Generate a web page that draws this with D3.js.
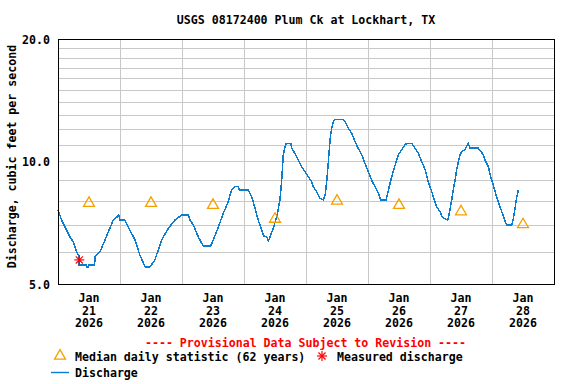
<!DOCTYPE html>
<html>
<head>
<meta charset="utf-8">
<script src="https://cdn.jsdelivr.net/npm/d3@7"></script>
<style>
    body { margin: 0; background: #fff; }
    svg  { display: block; }
    text { font-family: "DejaVu Sans Mono", monospace; font-weight: bold; font-size: 11.6px; fill: #000; }
</style>
</head>
<body>
<script>
/* global d3 */

// hours since Jan 21 2026 00:00 and discharge (cfs)
var flowHours = [
    0, 1.4, 2.7, 4.6, 5.9, 7.2, 8.1, 8.2, 11.0, 11.1, 11.7, 11.8, 14.2, 14.3, 16.3, 19.5, 21.4, 22.8, 23.5,
    24.0, 25.9, 29.8, 31.7, 33.7, 35.6, 37.5, 40.1, 42.7, 45.3, 47.9,
    50.4, 51.1, 52.4, 54.3, 56.2, 59.1, 60.1, 62.1, 64.0, 65.9, 67.2, 68.5, 69.8, 70.2,
    73.7, 75.0, 76.3, 77.5, 78.8, 79.7, 81.0, 81.4, 82.1, 83.3, 84.7, 85.9, 86.6, 87.2, 87.9, 88.3, 90.1, 90.5, 91.7, 93.0, 94.3, 95.6,
    96.9, 98.2, 98.8, 100.1, 101.4, 102.7, 103.4, 104.0, 104.6, 105.3, 105.9, 106.6, 107.2, 110.4, 111.1, 112.4, 113.7, 115.0, 116.2, 117.6, 118.8,
    120.1, 121.4, 122.7, 124.0, 124.9, 127.0, 127.9, 129.2, 130.5, 131.7, 133.0, 134.3, 135.0, 136.9, 138.2, 139.5, 140.8, 142.1, 143.3,
    144.0, 144.9, 145.7, 146.6, 147.9, 148.8, 150.9, 151.7, 152.4, 153.0, 153.7, 154.3, 155.0, 155.6, 156.3, 157.6, 158.2, 158.8, 159.5, 162.7, 163.8, 164.6, 165.3, 166.6, 167.5,
    168.5, 169.4, 170.2, 171.1, 172.0, 172.8, 173.7, 175.6, 176.3, 176.9, 177.6, 178.2
];
var flowValues = [
    7.6, 7.18, 6.91, 6.53, 6.35, 6.0, 5.85, 5.57, 5.57, 5.5, 5.5, 5.57, 5.57, 5.83, 6.0, 6.72, 7.18, 7.3, 7.39,
    7.18, 7.18, 6.41, 5.89, 5.51, 5.51, 5.73, 6.41, 6.85, 7.18, 7.39,
    7.39, 7.18, 6.98, 6.53, 6.2, 6.2, 6.41, 6.91, 7.46, 7.97, 8.51, 8.67, 8.67, 8.51,
    8.51, 8.19, 7.67, 7.18, 6.79, 6.56, 6.51, 6.38, 6.53, 6.85, 7.32, 8.04, 9.0, 10.37, 10.87, 11.08, 11.08, 10.78, 10.47, 10.08, 9.71, 9.44,
    9.18, 8.92, 8.67, 8.43, 8.12, 8.04, 8.27, 8.92, 9.9, 11.29, 12.07, 12.53, 12.7, 12.7, 12.53, 12.07, 11.73, 11.18, 10.78, 10.37, 9.9,
    9.44, 9.0, 8.67, 8.35, 8.04, 8.04, 8.51, 9.18, 9.8, 10.37, 10.67, 10.98, 11.08, 11.08, 10.78, 10.47, 9.99, 9.55, 8.92,
    8.67, 8.35, 8.04, 7.74, 7.53, 7.29, 7.18, 7.6, 8.04, 8.51, 9.0, 9.53, 9.99, 10.37, 10.57, 10.71, 10.92, 11.08, 10.78, 10.78, 10.57, 10.37, 10.08, 9.71, 9.18,
    8.75, 8.35, 8.04, 7.74, 7.46, 7.21, 6.98, 6.98, 7.25, 7.67, 8.19, 8.51
];

var dayLabels    = ["21", "22", "23", "24", "25", "26", "27", "28"];
var medianValues = [7.9, 7.9, 7.81, 7.22, 8.0, 7.81, 7.53, 7.0];
var measuredHour  = 8.25;
var measuredValue = 5.73;
var yGridValues  = [6, 7, 8, 9, 10, 11, 12, 13, 14, 15, 16, 17, 18, 19];
var yTickValues  = [5, 10, 20];

var W = 576, H = 384;
var plotL = 58, plotR = 554, plotT = 39, plotB = 284;

var startDate = new Date(2026, 0, 21);
var hourDate  = (h) => new Date(startDate.getTime() + h * 3600000);

var x = d3.scaleTime()
          .domain([startDate, hourDate(8 * 24)])
          .range([plotL, plotR]);

var y = d3.scaleLog()
          .domain([5, 20])
          .range([plotB, plotT]);

var svg = d3.select("body").append("svg")
            .attr("width", W)
            .attr("height", H);

// title
svg.append("text")
   .attr("x", (plotL + plotR) / 2)
   .attr("y", 20)
   .attr("text-anchor", "middle")
   .attr("dominant-baseline", "middle")
   .text("USGS 08172400 Plum Ck at Lockhart, TX");

// grid
var grid = svg.append("g")
              .attr("stroke", "#c8c8c8")
              .attr("stroke-width", 1)
              .attr("shape-rendering", "crispEdges");

grid.selectAll("line.h")
    .data(yGridValues)
    .enter().append("line")
    .attr("x1", plotL).attr("x2", plotR)
    .attr("y1", (d) => Math.round(y(d)) + 0.5)
    .attr("y2", (d) => Math.round(y(d)) + 0.5);

grid.selectAll("line.v")
    .data(d3.range(1, 8))
    .enter().append("line")
    .attr("x1", (d) => Math.round(x(hourDate(d * 24))) + 0.5)
    .attr("x2", (d) => Math.round(x(hourDate(d * 24))) + 0.5)
    .attr("y1", plotT).attr("y2", plotB);

// discharge line
var flow = flowHours.map((h, i) => ({ t: hourDate(h), v: flowValues[i] }));

svg.append("path")
   .datum(flow)
   .attr("fill", "none")
   .attr("stroke", "#0a7dcf")
   .attr("stroke-width", 1.5)
   .attr("shape-rendering", "crispEdges")
   .attr("d", d3.line()
                .x((d) => x(d.t))
                .y((d) => y(d.v)));

// median triangles
var triangle = d3.symbol().type(d3.symbolTriangle).size(52);

svg.selectAll("path.median")
   .data(medianValues)
   .enter().append("path")
   .attr("class", "median")
   .attr("d", triangle)
   .attr("transform", (d, i) => `translate(${x(hourDate(i * 24 + 12))},${y(d)})`)
   .attr("fill", "none")
   .attr("stroke", "#f5a000")
   .attr("stroke-width", 1.3);

// measured discharge asterisk
var asterisk = (g, r) => {
    [0, 45, 90, 135].forEach((a) => {
        var rad = a * Math.PI / 180;
        g.append("line")
         .attr("x1", -r * Math.cos(rad)).attr("y1", -r * Math.sin(rad))
         .attr("x2",  r * Math.cos(rad)).attr("y2",  r * Math.sin(rad));
    });
};

var meas = svg.append("g")
              .attr("stroke", "#ff0000")
              .attr("stroke-width", 1.2)
              .attr("transform", `translate(${x(hourDate(measuredHour))},${y(measuredValue)})`);
asterisk(meas, 5);

// frame
svg.append("rect")
   .attr("x", plotL + 0.5).attr("y", plotT + 0.5)
   .attr("width", plotR - plotL).attr("height", plotB - plotT)
   .attr("fill", "none")
   .attr("stroke", "#000")
   .attr("shape-rendering", "crispEdges");

// y ticks
svg.selectAll("text.ytick")
   .data(yTickValues)
   .enter().append("text")
   .attr("x", 50)
   .attr("y", (d) => y(d) + 1)
   .attr("text-anchor", "end")
   .attr("dominant-baseline", "middle")
   .text((d) => d.toFixed(1));

svg.append("text")
   .attr("transform", `translate(12,${(plotT + plotB) / 2 - 5}) rotate(-90)`)
   .attr("text-anchor", "middle")
   .attr("dominant-baseline", "middle")
   .text("Discharge, cubic feet per second");

// x labels
var xl = svg.selectAll("g.xl")
            .data(dayLabels)
            .enter().append("g")
            .attr("transform", (d, i) => `translate(${x(hourDate(i * 24 + 12))},0)`);

[["Jan", 298], [null, 311], ["2026", 323.5]].forEach(([s, yy]) => {
    xl.append("text")
      .attr("y", yy)
      .attr("text-anchor", "middle")
      .attr("dominant-baseline", "middle")
      .text((d) => s === null ? d : s);
});

// legend
svg.append("text")
   .attr("x", 305.5).attr("y", 343.5)
   .attr("text-anchor", "middle")
   .attr("dominant-baseline", "middle")
   .style("fill", "#ff0000")
   .text("---- Provisional Data Subject to Revision ----");

svg.append("path")
   .attr("d", triangle)
   .attr("transform", "translate(60,356)")
   .attr("fill", "none")
   .attr("stroke", "#f5a000")
   .attr("stroke-width", 1.3);

svg.append("text")
   .attr("x", 75).attr("y", 357)
   .attr("dominant-baseline", "middle")
   .text("Median daily statistic (62 years)");

var legMeas = svg.append("g")
                 .attr("stroke", "#ff0000")
                 .attr("stroke-width", 1.2)
                 .attr("transform", "translate(322,356)");
asterisk(legMeas, 5);

svg.append("text")
   .attr("x", 337).attr("y", 357)
   .attr("dominant-baseline", "middle")
   .text("Measured discharge");

svg.append("line")
   .attr("x1", 51).attr("x2", 69)
   .attr("y1", 372.5).attr("y2", 372.5)
   .attr("stroke", "#0a7dcf")
   .attr("stroke-width", 1.4);

svg.append("text")
   .attr("x", 75).attr("y", 373.5)
   .attr("dominant-baseline", "middle")
   .text("Discharge");
</script>
</body>
</html>
